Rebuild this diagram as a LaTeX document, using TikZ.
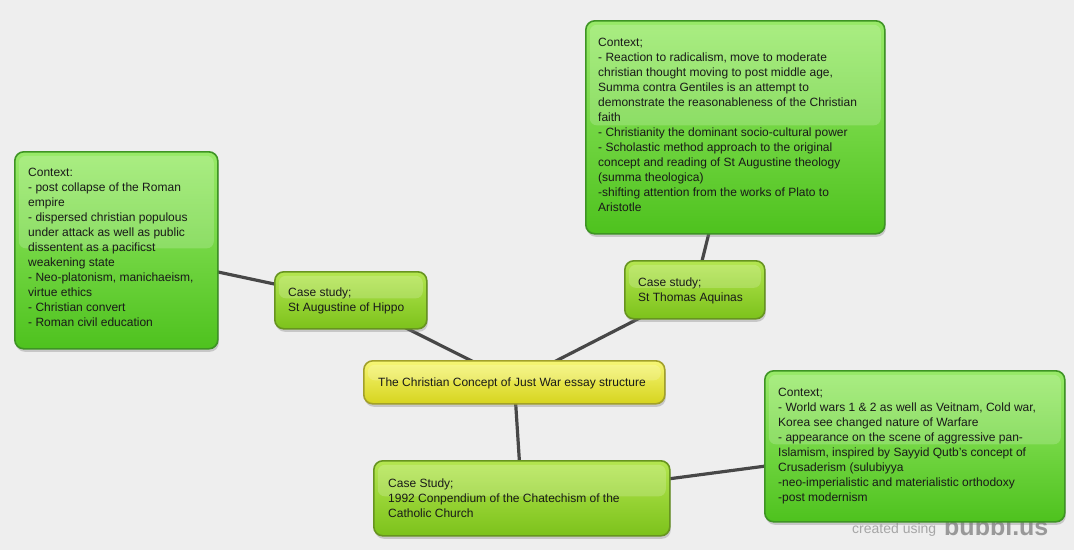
\documentclass[tikz,border=0pt]{standalone}
\usepackage{fontspec}
\setmainfont{Liberation Sans}
\usetikzlibrary{shadows}
\definecolor{bgc}{HTML}{EEEEEE}
\definecolor{ctxtop}{HTML}{98EA68}
\definecolor{ctxmid}{HTML}{6ADC36}
\definecolor{ctxbot}{HTML}{4EC21E}
\definecolor{ctxdraw}{HTML}{3E9424}
\definecolor{cstop}{HTML}{B4E650}
\definecolor{csmid}{HTML}{98D834}
\definecolor{csbot}{HTML}{7CC21B}
\definecolor{csdraw}{HTML}{679420}
\definecolor{cetop}{HTML}{F6F674}
\definecolor{cemid}{HTML}{EAEA44}
\definecolor{cebot}{HTML}{D6D41E}
\definecolor{cedraw}{HTML}{A2A02A}
\definecolor{linec}{HTML}{474747}
\definecolor{wmark}{HTML}{A6A6A6}
\pgfdeclarelayer{back}
\pgfdeclarelayer{bg}
\pgfsetlayers{back,bg,main}
\tikzset{
  boxbase/.style={anchor=north west, rounded corners=9pt, line width=1.6pt, inner sep=0pt,
    drop shadow={shadow xshift=1pt, shadow yshift=-3pt, opacity=0.35},
    path picture={\fill[white, opacity=0.18, rounded corners=7pt]
      ([xshift=4pt,yshift=-4pt]path picture bounding box.north west) rectangle
      ([xshift=-4pt,yshift=2pt]path picture bounding box.east);}},
  ctxbox/.style={boxbase, draw=ctxdraw, top color=ctxtop, middle color=ctxmid, bottom color=ctxbot},
  csbox/.style={boxbase, draw=csdraw, top color=cstop, middle color=csmid, bottom color=csbot},
  cebox/.style={boxbase, draw=cedraw, top color=cetop, middle color=cemid, bottom color=cebot},
  txt/.style={anchor=north west, inner sep=0pt, align=left, font=\fontsize{12}{15}\selectfont, text=black!90},
  conn/.style={draw=linec, line width=3.2pt},
}
\begin{document}
\begin{tikzpicture}[x=1pt,y=-1pt]
\begin{pgfonlayer}{back}
\fill[bgc] (0,0) rectangle (1074,550);
\end{pgfonlayer}
\useasboundingbox (0,0) rectangle (1074,550);

% watermark (partly under the box)
\node[anchor=base west, inner sep=0pt, text=wmark, font=\fontsize{14}{14}\selectfont] (wm1) at (852,533) {created using};
\node[anchor=base west, inner sep=0pt, text=wmark!92!black, font=\fontsize{25}{25}\selectfont\bfseries] (wm2) at (944,535) {bubbl.us};

% boxes
\node[ctxbox, minimum width=203pt, minimum height=197pt] (lc) at (14,151) {};
\node[ctxbox, minimum width=299pt, minimum height=213pt] (tc) at (585,20) {};
\node[ctxbox, minimum width=300pt, minimum height=151pt] (rc) at (764,370) {};
\node[csbox, minimum width=152pt, minimum height=57pt] (aug) at (274,271) {};
\node[csbox, minimum width=140pt, minimum height=58pt] (aq) at (624,260) {};
\node[cebox, minimum width=301pt, minimum height=43pt] (cen) at (363,360) {};
\node[csbox, minimum width=296pt, minimum height=75pt] (cat) at (373,460) {};

% connectors
\begin{pgfonlayer}{bg}
\draw[conn] (lc.center) -- (aug.center);
\draw[conn] (aug.center) -- (cen.center);
\draw[conn] (cen.center) -- (aq.center);
\draw[conn] (aq.center) -- (tc.center);
\draw[conn] (cen.center) -- (cat.center);
\draw[conn] (cat.center) -- (rc.center);
\end{pgfonlayer}

% texts
\node[txt] (lct) at (28,168) {Context:\\- post collapse of the Roman\\empire\\- dispersed christian populous\\under attack as well as public\\dissentent as a pacificst\\weakening state\\- Neo-platonism, manichaeism,\\virtue ethics\\- Christian convert\\- Roman civil education};
\node[txt] (tct) at (598,38) {Context;\\- Reaction to radicalism, move to moderate\\christian thought moving to post middle age,\\Summa contra Gentiles is an attempt to\\demonstrate the reasonableness of the Christian\\faith\\- Christianity the dominant socio-cultural power\\- Scholastic method approach to the original\\concept and reading of St Augustine theology\\(summa theologica)\\-shifting attention from the works of Plato to\\Aristotle};
\node[txt] (rct) at (778,388) {Context;\\- World wars 1 \& 2 as well as Veitnam, Cold war,\\Korea see changed nature of Warfare\\- appearance on the scene of aggressive pan-\\Islamism, inspired by Sayyid Qutb's concept of\\Crusaderism (sulubiyya\\-neo-imperialistic and materialistic orthodoxy\\-post modernism};
\node[txt] (augt) at (288,288) {Case study;\\St Augustine of Hippo};
\node[txt] (aqt) at (638,278) {Case study;\\St Thomas Aquinas};
\node[txt] (cent) at (378,378) {The Christian Concept of Just War essay structure};
\node[txt] (catt) at (388,479) {Case Study;\\1992 Conpendium of the Chatechism of the\\Catholic Church};
\end{tikzpicture}
\end{document}
